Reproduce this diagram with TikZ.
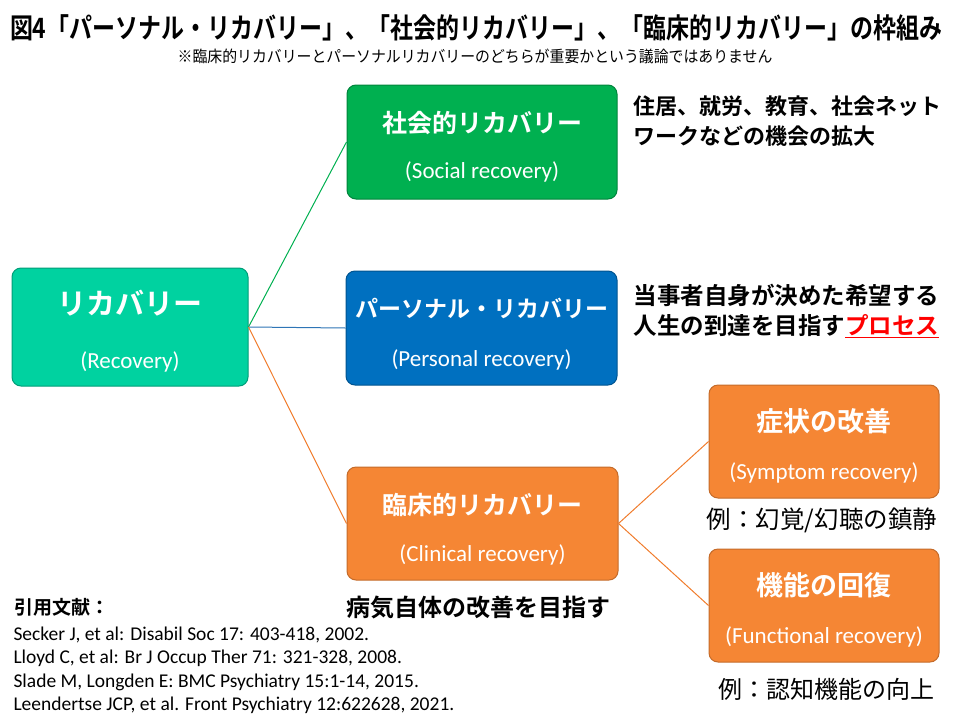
\documentclass[tikz,border=0pt]{standalone}
\usepackage{fontspec}
\setmainfont{Carlito}
\newfontfamily\jp{Noto Sans CJK JP}[BoldFont={Noto Sans CJK JP Bold}]
\newfontfamily\jptitle{Noto Sans CJK JP Bold}[FakeStretch=0.82]
\newfontfamily\jpnote{Noto Sans CJK JP}[FakeStretch=0.93]
\usepackage{xcolor}
\usepackage{tikz}
\usetikzlibrary{positioning}

\definecolor{recteal}{HTML}{00D2A0}
\definecolor{socgreen}{HTML}{00B050}
\definecolor{perblue}{HTML}{0070C0}
\definecolor{clinorange}{HTML}{F58634}
\definecolor{lineblue}{HTML}{2E75B6}
\definecolor{lineorange}{HTML}{F07C2C}

\begin{document}
\begin{tikzpicture}[x=1pt,y=-1pt,
    box/.style={rectangle, rounded corners=9pt, inner sep=0pt, line width=1pt},
    boxtitle/.style={anchor=base, text=white, font=\jp\bfseries\fontsize{25}{25}\selectfont},
    boxsub/.style={anchor=base, text=white, font=\fontsize{23}{23}\selectfont},
    note/.style={anchor=base west, font=\jp\bfseries\fontsize{23.5}{23.5}\selectfont},
    example/.style={anchor=base, font=\jp\fontsize{24}{24}\selectfont},
    ref/.style={anchor=base west, font=\fontsize{19.5}{19.5}\selectfont},
    link/.style={line width=1pt}]

  \useasboundingbox (0,0) rectangle (960,720);

  % heading
  \node[anchor=base, font=\jptitle\fontsize{28}{28}\selectfont] (title) at (476,38)
    {図4「パーソナル・リカバリー」、「社会的リカバリー」、「臨床的リカバリー」の枠組み};
  \node[anchor=base, font=\jpnote\fontsize{16}{16}\selectfont] (subtitle) at (475,62)
    {※臨床的リカバリーとパーソナルリカバリーのどちらが重要かという議論ではありません};

  % boxes
  \node[box, fill=recteal, draw=recteal!75!black, minimum width=236pt, minimum height=118pt] (rec) at (130,327) {};
  \node[box, fill=socgreen, draw=socgreen!75!black, minimum width=270pt, minimum height=114pt] (social) at (482,142) {};
  \node[box, fill=perblue, draw=perblue!75!black, minimum width=271pt, minimum height=114pt] (personal) at (481.5,328) {};
  \node[box, fill=clinorange, draw=clinorange!80!black, minimum width=271pt, minimum height=113pt] (clinical) at (482.5,523.5) {};
  \node[box, fill=clinorange, draw=clinorange!80!black, minimum width=230pt, minimum height=113pt] (symptom) at (824,441.5) {};
  \node[box, fill=clinorange, draw=clinorange!80!black, minimum width=230pt, minimum height=113pt] (functional) at (824,605.5) {};

  % box texts
  \node[boxtitle, font=\jp\bfseries\fontsize{29}{29}\selectfont] (recA) at (130,314) {リカバリー};
  \node[boxsub] (recB) at (130,368) {(Recovery)};
  \node[boxtitle] (socialA) at (482,132) {社会的リカバリー};
  \node[boxsub] (socialB) at (482,178) {(Social recovery)};
  \node[boxtitle, font=\jp\bfseries\fontsize{23}{23}\selectfont] (personalA) at (481.5,317) {パーソナル・リカバリー};
  \node[boxsub] (personalB) at (481.5,366) {(Personal recovery)};
  \node[boxtitle] (clinicalA) at (482.5,514) {臨床的リカバリー};
  \node[boxsub] (clinicalB) at (482.5,561) {(Clinical recovery)};
  \node[boxtitle, font=\jp\bfseries\fontsize{27}{27}\selectfont] (symptomA) at (824,431) {症状の改善};
  \node[boxsub] (symptomB) at (824,479) {(Symptom recovery)};
  \node[boxtitle, font=\jp\bfseries\fontsize{27}{27}\selectfont] (functionalA) at (824,595) {機能の回復};
  \node[boxsub] (functionalB) at (824,643) {(Functional recovery)};

  % connectors
  \draw[link, socgreen] (rec.east) -- (social.west);
  \draw[link, lineblue] (rec.east) -- (personal.west);
  \draw[link, lineorange] (rec.east) -- (clinical.west);
  \draw[link, lineorange] (clinical.east) -- (symptom.west);
  \draw[link, lineorange] (clinical.east) -- (functional.west);

  % notes
  \node[note, font=\jp\bfseries\fontsize{22}{22}\selectfont] (socialnoteA) at (630,114) {住居、就労、教育、社会ネット};
  \node[note, font=\jp\bfseries\fontsize{22}{22}\selectfont] (socialnoteB) at (630,144) {ワークなどの機会の拡大};
  \node[note] (personalnoteA) at (630,304) {当事者自身が決めた希望する};
  \node[note] (personalnoteB) at (630,334) {人生の到達を目指す\textcolor{red}{\underline{プロセス}}};
  \node[note, anchor=base, font=\jp\bfseries\fontsize{24}{24}\selectfont] (clinicalnote) at (478,616) {病気自体の改善を目指す};
  \node[example, font=\jp\fontsize{24.5}{24.5}\selectfont] (symptomnote) at (822,528) {例：幻覚/幻聴の鎮静};
  \node[example] (functionalnote) at (826,698) {例：認知機能の向上};

  % references
  \node[anchor=base west, font=\jp\bfseries\fontsize{19}{19}\selectfont] (refhead) at (11,614) {引用文献：};
  \node[ref] (refA) at (10,640) {Secker J, et al: Disabil Soc 17: 403-418, 2002.};
  \node[ref] (refB) at (10,663.5) {Lloyd C, et al: Br J Occup Ther 71: 321-328, 2008.};
  \node[ref] (refC) at (10,687) {Slade M, Longden E: BMC Psychiatry 15:1-14, 2015.};
  \node[ref] (refD) at (10,710.5) {Leendertse JCP, et al. Front Psychiatry 12:622628, 2021.};

\end{tikzpicture}
\end{document}
